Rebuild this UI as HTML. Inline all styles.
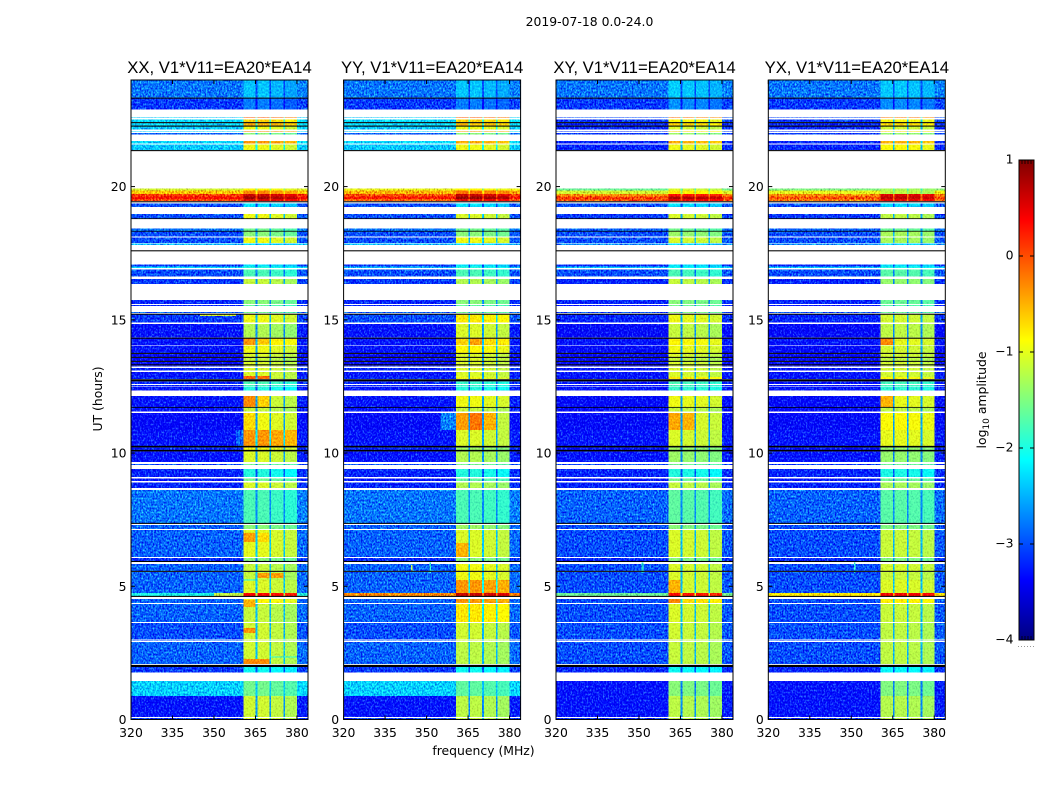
<!DOCTYPE html>
<html>
<head>
<meta charset="utf-8">
<title>2019-07-18 amplitude waterfall</title>
<style>
html,body{margin:0;padding:0;background:#fff;width:1050px;height:800px;overflow:hidden}
svg{display:block}
text{font-family:"DejaVu Sans","Liberation Sans",sans-serif;fill:#000}
.tick{font-size:12.4px}
.label{font-size:12.4px}
.title{font-family:"Liberation Sans",sans-serif;font-size:16.67px}
</style>
</head>
<body>
<svg id="fig" width="1050" height="800" viewBox="0 0 1050 800" xmlns="http://www.w3.org/2000/svg">
<text class="label" x="589.5" y="26" text-anchor="middle">2019-07-18 0.0-24.0</text>
<text class="label" x="483.5" y="755" text-anchor="middle">frequency (MHz)</text>
<text class="label" transform="translate(102,399) rotate(-90)" text-anchor="middle">UT (hours)</text>
<text class="label" transform="translate(986,400) rotate(-90)" text-anchor="middle">log<tspan dy="3" font-size="9">10</tspan><tspan dy="-3"> amplitude</tspan></text>
<g id="panels"></g>
<g id="colorbar"></g>
</svg>
<script>
// ---- Axis ticks ----
const freqTicks = [320, 335, 350, 365, 380];
const utTicks = [0, 5, 10, 15, 20];
const colorbarTicks = [1, 0, -1, -2, -3, -4];

// ---- Panel titles ----
const panelTitles = ["XX, V1*V11=EA20*EA14", "YY, V1*V11=EA20*EA14", "XY, V1*V11=EA20*EA14", "YX, V1*V11=EA20*EA14"];

// ---- Spectral windows (MHz) ----
const spwStart = [360.6, 365.7, 370.7, 375.7];
const spwEnd = [365.1, 370.1, 375.1, 380.0];

// ---- Time rows: the upper UT edge of each row, newest first; d=data, k=black, w=no data ----
const utTop = [24.00,23.34,23.30,22.89,22.62,22.59,22.51,22.42,22.38,22.29,22.25,22.14,22.08,22.06,22.02,21.95,21.72,21.61,21.57,21.37,21.33,
19.92,19.85,19.73,19.62,19.53,19.45,19.41,19.36,19.23,18.98,18.81,18.78,18.42,18.34,18.31,18.12,18.08,17.89,17.86,17.80,17.61,17.57,
17.07,17.01,16.95,16.88,16.62,16.54,16.35,15.75,15.60,15.56,15.51,15.30,15.26,15.23,15.19,14.89,14.85,14.33,14.29,14.06,14.03,
13.76,13.72,13.61,13.57,13.46,13.42,13.33,13.29,13.24,13.20,13.09,13.05,12.86,12.77,12.69,12.60,12.56,12.52,12.49,12.34,12.15,
11.73,11.70,11.55,11.51,10.87,10.27,10.21,10.12,10.06,9.67,9.59,9.56,9.41,9.11,9.05,8.96,8.90,8.69,8.62,7.38,7.34,7.30,7.15,7.12,
6.10,6.06,5.95,5.91,5.84,5.58,5.54,5.24,4.75,4.64,4.60,4.52,4.37,4.34,3.66,3.62,3.00,2.97,2.94,2.91,2.08,2.05,1.97,1.76,1.45,0.88,0.09,0.06];
const rowKind = "dkdwdwdkdkdwdwdwdwdkw"
  + "dddddkwdwdkwdkdwdwdwkw"
  + "ddwdwdwdwdwdwkdwdkdwd"
  + "kdkdkdkdwdwddkdwdwdwd"
  + "kdwddkdkdwdwdwdwdwdkwdwd"
  + "wdkwdkdddkwdwdwdwdwdwkdwddwd";

// ---- log10 amplitude for each data row, off-band and in-band, per polarisation ----
const offXX = [-2.8,-3.1,-2.4,-2.3,-2.3,-2.4,-2.3,-2.9,-2.3,-2.4,
-1.1,-0.6,0.1,0.35,0.05,-3.0,-3.0,-2.8,-3.0,-3.0,
-2.5,-3.1,-2.3,-3.0,-3.1,-3.2,-3.2,-2.9,-3.1,-3.3,
-3.3,-3.3,-3.4,-3.4,-3.4,-3.3,-3.2,-3.3,-3.2,-3.2,
-3.2,-3.3,-3.3,-3.3,-3.4,-3.3,-3.2,-3.3,-3.0,-3.2,
-3.3,-3.2,-2.8,-2.9,-2.9,-3.2,-2.9,-2.9,-2.9,-2.0,
-2.9,-2.9,-3.0,-2.9,-2.9,-3.1,-2.35,-3.3,-3.1];
const inXX = [-2.45,-2.8,-0.1,-0.7,-0.5,-1.0,-0.3,-1.5,-0.4,-1.0,
-0.9,-0.3,0.6,0.8,0.55,-2.3,-1.0,-1.6,-1.5,-1.0,
-2.3,-2.3,-2.0,-1.8,-1.2,-1.5,-1.7,-1.6,-1.0,-1.3,
-0.8,-1.0,-1.1,-1.2,-1.1,-1.1,-1.1,-1.1,-1.1,-1.8,
-1.8,-2.0,-1.1,-1.2,-1.0,-0.4,-1.0,-1.1,-1.6,-2.0,
-1.6,-1.1,-1.8,-1.5,-1.05,-1.5,-1.2,-1.2,-1.1,0.35,
-0.9,-1.2,-1.15,-1.15,-1.15,-2.1,-1.6,-1.15,-1.1];
const offYY = [-2.8,-3.1,-2.4,-2.3,-2.3,-2.4,-2.3,-2.9,-2.3,-2.4,
-1.0,-0.5,0.0,0.3,-0.1,-3.0,-3.0,-2.8,-3.0,-3.0,
-2.5,-3.1,-2.5,-3.0,-3.1,-3.2,-3.2,-2.9,-3.0,-3.3,
-3.3,-3.3,-3.4,-3.4,-3.4,-3.3,-3.2,-3.3,-3.2,-3.2,
-3.2,-3.3,-3.3,-3.3,-3.4,-3.3,-3.2,-3.3,-3.0,-3.2,
-3.3,-3.2,-2.8,-2.9,-2.9,-3.2,-2.9,-2.9,-2.9,-0.3,
-2.9,-2.9,-3.0,-2.9,-2.9,-3.1,-2.35,-3.3,-3.1];
const inYY = [-2.45,-2.8,-0.1,-0.7,-0.6,-1.0,-0.4,-1.5,-0.5,-1.0,
-0.9,-0.2,0.6,0.85,0.5,-2.3,-1.1,-1.6,-1.5,-1.0,
-2.3,-2.3,-2.0,-1.8,-1.3,-1.5,-1.7,-1.6,-0.8,-1.1,
-0.7,-0.9,-1.1,-1.1,-1.1,-1.1,-1.1,-1.1,-1.0,-1.9,
-1.9,-2.0,-1.0,-1.2,-1.1,-1.1,-1.4,-1.3,-1.6,-2.0,
-1.7,-1.3,-1.8,-1.4,-1.1,-1.5,-1.0,-1.0,-0.4,0.6,
-0.4,-0.8,-1.15,-1.15,-1.25,-2.1,-1.7,-1.25,-1.2];
const offXY = [-2.8,-3.1,-3.0,-3.1,-3.2,-3.2,-3.1,-3.1,-3.2,-3.2,
-1.6,-1.1,-0.3,0.1,0.0,-3.0,-3.1,-2.9,-3.0,-3.0,
-2.7,-3.2,-2.4,-3.0,-3.2,-3.2,-3.3,-3.0,-3.2,-3.4,
-3.3,-3.4,-3.4,-3.4,-3.4,-3.4,-3.3,-3.3,-3.3,-3.3,
-3.3,-3.3,-3.4,-3.4,-3.4,-3.3,-3.3,-3.3,-3.1,-3.2,
-3.3,-3.2,-2.9,-3.0,-3.0,-3.2,-3.0,-3.0,-3.0,-1.6,
-3.0,-3.0,-3.0,-3.0,-3.0,-3.2,-3.3,-3.3,-3.2];
const inXY = [-2.4,-2.7,-0.2,-0.9,-0.7,-1.1,-0.7,-1.4,-0.5,-1.0,
-1.1,-0.8,0.3,0.75,0.5,-2.3,-1.1,-1.6,-1.4,-1.1,
-2.3,-2.3,-2.1,-1.8,-1.2,-1.5,-1.6,-1.5,-1.0,-1.2,
-0.9,-1.0,-1.1,-1.2,-1.1,-1.1,-1.1,-1.1,-0.8,-1.8,
-1.8,-1.9,-1.0,-1.2,-1.05,-1.1,-1.4,-1.4,-1.6,-2.0,
-1.6,-1.2,-1.7,-1.5,-1.1,-1.5,-1.1,-1.1,-1.1,0.3,
-0.7,-1.1,-1.15,-1.15,-1.2,-2.1,-1.5,-1.25,-1.2];
const offYX = [-2.8,-3.1,-3.0,-3.1,-3.2,-3.2,-3.1,-3.1,-3.2,-3.2,
-1.5,-1.0,-0.3,0.0,-0.2,-3.0,-3.1,-2.9,-3.0,-3.0,
-2.7,-3.2,-2.4,-3.0,-3.2,-3.2,-3.3,-3.0,-3.2,-3.4,
-3.3,-3.4,-3.4,-3.4,-3.4,-3.4,-3.3,-3.3,-3.3,-3.3,
-3.3,-3.3,-3.4,-3.4,-3.4,-3.3,-3.3,-3.3,-3.1,-3.2,
-3.3,-3.2,-2.9,-3.0,-3.0,-3.2,-3.0,-3.0,-3.0,-0.8,
-3.0,-3.0,-3.0,-3.0,-3.0,-3.2,-3.3,-3.3,-3.2];
const inYX = [-2.4,-2.7,-0.2,-0.9,-0.7,-1.1,-0.7,-1.4,-0.5,-0.9,
-1.3,-1.2,0.55,0.7,0.5,-2.3,-1.2,-1.6,-1.3,-1.3,
-2.3,-2.3,-2.0,-1.7,-1.4,-1.6,-1.7,-1.6,-1.1,-1.2,
-1.0,-1.1,-1.1,-1.2,-1.1,-1.1,-1.1,-1.1,-0.9,-1.8,
-1.8,-1.9,-1.0,-1.2,-0.9,-1.0,-1.4,-1.4,-1.6,-2.0,
-1.6,-1.3,-1.7,-1.5,-1.15,-1.5,-1.1,-1.15,-1.05,0.45,
-0.8,-1.15,-1.2,-1.2,-1.2,-2.1,-1.5,-1.25,-1.2];

// ---- Per-window level offsets, per polarisation ----
const spwOffsetXX = [0.04, 0.04, -0.04, -0.12];
const spwOffsetYY = [0.04, 0.04, -0.02, -0.08];
const spwOffsetXY = [0.04, 0.0, -0.03, -0.1];
const spwOffsetYX = [0.0, 0.0, -0.02, -0.08];

// ---- Localised features: hot patches, dips and interference streaks ----
const patchPanel = [0,0,0,0,0,0,0,0,0,0,0,0,0,0,0,0,0,0,0,
1,1,1,1,1,1,1,1,
2,2,2,2,2,
3,3,3];
const patchFreqLow = [360.6,365.7,360.6,365.7,360.6,365.7,360.6,360.6,365.7,365.7,370.7,360.6,360.6,360.6,345,358,350,360.6,370.7,
360.6,365.7,370.7,355,360.6,365.7,344.4,351,
360.6,365.7,360.6,360.6,351,
360.6,360.6,351];
const patchFreqHigh = [365.1,370.1,365.1,370.1,365.1,370.1,365.1,365.1,370.1,370.1,375.1,365.1,365.1,370.1,358,360.6,360.6,365.1,380,
365.1,370.1,375.1,360.6,365.1,370.1,345,351.6,
365.1,370.1,365.1,365.1,351.6,
365.1,365.1,351.6];
const patchUtTop = [14.29,14.29,12.90,12.90,12.15,12.15,11.51,7.00,7.00,5.50,5.50,4.49,3.44,2.27,15.19,10.87,4.75,5.26,2.37,
11.51,11.51,11.51,11.51,6.63,14.29,5.80,5.90,
11.51,11.51,5.24,4.52,5.90,
12.15,14.29,5.90];
const patchUtBottom = [14.06,14.10,12.77,12.77,11.73,11.73,10.87,6.66,6.66,5.31,5.31,4.22,3.25,2.08,15.14,10.27,4.64,5.22,2.33,
10.87,10.87,10.87,10.87,6.10,14.06,5.60,5.50,
10.87,10.87,4.75,4.37,5.50,
11.73,14.06,5.50];
const patchValue = [-0.35,-0.6,-0.1,-0.15,-0.3,-0.65,-0.7,-0.4,-0.7,-0.4,-0.4,-0.5,-0.35,-0.3,-1.1,-2.9,-1.2,-2.0,-1.9,
-0.4,-0.2,-0.5,-2.75,-0.5,-0.4,-1.2,-1.9,
-0.45,-0.5,-0.5,-0.3,-1.9,
-0.5,-0.3,-1.9];

const offSeries = [offXX, offYY, offXY, offYX];
const inSeries = [inXX, inYY, inXY, inYX];
const spwOffsets = [spwOffsetXX, spwOffsetYY, spwOffsetXY, spwOffsetYX];

// ---- Layout and scales ----
const NS = "http://www.w3.org/2000/svg";
const panelLeft = [131, 343.6, 556, 768.3];
const panelWidth = 177;
const plotTop = 80, plotBottom = 719.5;
const freqMin = 320, freqMax = 384, utMin = 0, utMax = 24;
const cbarLeft = 1019, cbarRight = 1034, cbarTop = 160, cbarBottom = 640;
const cMin = -4, cMax = 1;

function xScale(panel, f) { return panelLeft[panel] + (f - freqMin) / (freqMax - freqMin) * panelWidth; }
function yScale(ut) { return plotBottom - (ut - utMin) / (utMax - utMin) * (plotBottom - plotTop); }
function cbarScale(v) { return cbarBottom - (v - cMin) / (cMax - cMin) * (cbarBottom - cbarTop); }
function clip01(v) { return Math.max(0, Math.min(1, v)); }
function jet(v) {
  const t = clip01((v - cMin) / (cMax - cMin));
  const r = clip01(1.5 - Math.abs(4 * t - 3));
  const g = clip01(1.5 - Math.abs(4 * t - 2));
  const b = clip01(1.5 - Math.abs(4 * t - 1));
  return "rgb(" + Math.round(r * 255) + "," + Math.round(g * 255) + "," + Math.round(b * 255) + ")";
}
function make(tag, attrs, parent) {
  const el = document.createElementNS(NS, tag);
  for (const k in attrs) el.setAttribute(k, attrs[k]);
  parent.appendChild(el);
  return el;
}
function makeGrain(id, seed, strength, panel, defs) {
  const f = make("filter", { id: id, filterUnits: "userSpaceOnUse", x: panelLeft[panel], y: plotTop, width: panelWidth, height: plotBottom - plotTop, "color-interpolation-filters": "sRGB" }, defs);
  make("feTurbulence", { type: "fractalNoise", baseFrequency: "0.62 0.5", numOctaves: 2, seed: seed, result: "n" }, f);
  make("feColorMatrix", { in: "n", type: "matrix", values: "0.45 0 0 0 0.275  1 0 0 0 0  0.25 0 0 0 0.375  0 0 0 0 1", result: "c" }, f);
  make("feComposite", { in: "SourceGraphic", in2: "c", operator: "arithmetic", k1: 0, k2: 1, k3: strength, k4: -strength / 2, result: "a" }, f);
  make("feComposite", { in: "a", in2: "SourceAlpha", operator: "in" }, f);
}

const panelsRoot = document.getElementById("panels");
const defs = make("defs", {}, panelsRoot);

panelTitles.forEach(function (title, p) {
  makeGrain("grain-off-" + p, 3 + p * 7, 1.4, p, defs);
  makeGrain("grain-in-" + p, 11 + p * 5, 0.6, p, defs);

  const panel = make("g", {}, panelsRoot);
  
  

  const offGroup = make("g", { filter: "url(#grain-off-" + p + ")" }, panel);
  
  
  const inGroup = make("g", { filter: "url(#grain-in-" + p + ")" }, panel);
  
  
  const flagGroup = make("g", {}, panel);
  
  

  let dataIdx = 0;
  for (let r = 0; r < utTop.length; r++) {
    const kind = rowKind[r];
    const yA = yScale(utTop[r]);
    const yB = yScale(r + 1 < utTop.length ? utTop[r + 1] : 0);
    if (kind === "w") continue;
    if (kind === "k") {
      const bar = make("rect", { x: xScale(p, freqMin), y: yA, width: panelWidth, height: yB - yA, fill: "#000" }, flagGroup);
      
      
      continue;
    }
    const off = offSeries[p][dataIdx];
    const inn = inSeries[p][dataIdx];
    dataIdx++;
    const gapV = (off + inn) / 2 - 0.4;
    const h = yB - yA;
    const addCell = function (group, f0, f1, v) {
      const c = make("rect", { x: xScale(p, f0), y: yA, width: xScale(p, f1) - xScale(p, f0) + 0.2, height: h, fill: jet(v), "shape-rendering": "crispEdges" }, group);
      
      
    };
    addCell(offGroup, freqMin, spwStart[0], off);
    for (let s = 0; s < spwStart.length; s++) {
      addCell(inGroup, spwStart[s], spwEnd[s], inn + spwOffsets[p][s]);
      if (s < spwStart.length - 1) addCell(inGroup, spwEnd[s], spwStart[s + 1], gapV);
    }
    addCell(offGroup, spwEnd[3], freqMax, off + 0.05);
  }

  patchPanel.forEach(function (owner, i) {
    if (owner !== p) return;
    const group = patchFreqLow[i] >= spwStart[0] ? inGroup : offGroup;
    const mark = make("rect", { x: xScale(p, patchFreqLow[i]), y: yScale(patchUtTop[i]), width: xScale(p, patchFreqHigh[i]) - xScale(p, patchFreqLow[i]), height: yScale(patchUtBottom[i]) - yScale(patchUtTop[i]), fill: jet(patchValue[i]), "shape-rendering": "crispEdges" }, group);
    
    
  });

  const frame = make("rect", { x: panelLeft[p], y: plotTop, width: panelWidth, height: plotBottom - plotTop, fill: "none", stroke: "#000", "stroke-width": 1 }, panel);
  
  

  const titleEl = make("text", { class: "title", x: panelLeft[p] + panelWidth / 2, y: 73, "text-anchor": "middle" }, panel);
  
  
  titleEl.textContent = title;

  freqTicks.forEach(function (f) {
    const x = xScale(p, f);
    const t1 = make("line", { x1: x, x2: x, y1: plotBottom, y2: plotBottom - 4, stroke: "#000", "stroke-width": 1 }, panel);
    
    
    const t2 = make("line", { x1: x, x2: x, y1: plotTop, y2: plotTop + 4, stroke: "#000", "stroke-width": 1 }, panel);
    
    
    const lab = make("text", { class: "tick", x: x, y: 737, "text-anchor": "middle" }, panel);
    
    
    lab.textContent = f;
  });
  utTicks.forEach(function (u) {
    const y = yScale(u);
    const t1 = make("line", { x1: panelLeft[p], x2: panelLeft[p] + 4, y1: y, y2: y, stroke: "#000", "stroke-width": 1 }, panel);
    
    
    const t2 = make("line", { x1: panelLeft[p] + panelWidth, x2: panelLeft[p] + panelWidth - 4, y1: y, y2: y, stroke: "#000", "stroke-width": 1 }, panel);
    
    
    const lab = make("text", { class: "tick", x: panelLeft[p] - 4.5, y: y + 4.5, "text-anchor": "end" }, panel);
    
    
    lab.textContent = u;
  });
});

// ---- Colorbar ----
const cbar = document.getElementById("colorbar");
for (let y = cbarTop; y < cbarBottom; y++) {
  const v = cMax - (y + 0.5 - cbarTop) / (cbarBottom - cbarTop) * (cMax - cMin);
  const seg = make("rect", { x: cbarLeft, y: y, width: cbarRight - cbarLeft, height: 1.2, fill: jet(v) }, cbar);
  
  
}
const cbFrame = make("rect", { x: cbarLeft, y: cbarTop, width: cbarRight - cbarLeft, height: cbarBottom - cbarTop, fill: "none", stroke: "#000", "stroke-width": 1 }, cbar);


colorbarTicks.forEach(function (v) {
  const y = cbarScale(v);
  const a = make("line", { x1: cbarLeft, x2: cbarLeft + 4, y1: y, y2: y, stroke: "#000", "stroke-width": 1 }, cbar);
  
  
  const b = make("line", { x1: cbarRight, x2: cbarRight - 4, y1: y, y2: y, stroke: "#000", "stroke-width": 1 }, cbar);
  
  
  const lab = make("text", { class: "tick", x: 1013.5, y: y + 3.5, "text-anchor": "end", "font-size": "11.5px" }, cbar);
  
  
  lab.textContent = (v < 0 ? "\u2212" + Math.abs(v) : String(v));
});
for (let i = 1; i < 5; i++) {
  const x = cbarLeft + i * (cbarRight - cbarLeft) / 5;
  const top = make("line", { x1: x, x2: x, y1: cbarTop, y2: cbarTop + 4, stroke: "#000", "stroke-width": 0.8 }, cbar);
  
  
  const bot = make("line", { x1: x, x2: x, y1: cbarBottom, y2: cbarBottom - 4, stroke: "#000", "stroke-width": 0.8 }, cbar);
  
  
}
const dots = make("line", { x1: 1018, x2: 1035, y1: 646.5, y2: 646.5, stroke: "#999", "stroke-width": 1, "stroke-dasharray": "1 2" }, cbar);


</script>
</body>
</html>
